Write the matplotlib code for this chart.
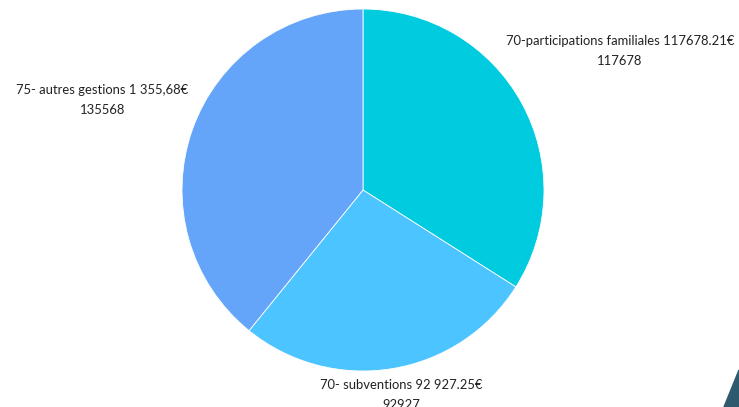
# Pie chart of receipts by category
import matplotlib.pyplot as plt
from matplotlib.patches import Polygon

labels = ['70-participations familiales 117678.21€',
          '70- subventions 92 927.25€',
          '75- autres gestions 1 355,68€']
values = [117678, 92927, 135568]
colors = ['#00CBDF', '#4BC4FF', '#64A5F9']

# label centres in axes data units (pie radius = 1)
label_pos = [(1.42, 0.77), (0.21, -1.13), (-1.44, 0.50)]

plt.rcParams['font.family'] = ['Lato', 'DejaVu Sans']

W, H = 739, 407
cx, cy, r = 363, 190, 181

fig = plt.figure(figsize=(W / 100, H / 100), dpi=100)
ax = fig.add_axes([0, 0, 1, 1])

ax.pie(values, colors=colors, startangle=90, counterclock=False,
       wedgeprops=dict(edgecolor='white', linewidth=0.6))

ax.set_xlim(-cx / r, (W - cx) / r)
ax.set_ylim((cy - H) / r, cy / r)
ax.set_aspect('equal')
ax.axis('off')

for lab, v, (x, y) in zip(labels, values, label_pos):
    ax.text(x, y, lab + '\n' + str(v), ha='center', va='center',
            fontsize=9.4, color='#222222', linespacing=1.8)

# decorative corner shape
fig.patches.append(Polygon([(724 / W, 0), (739 / W, 37 / H), (1, 0)],
                           closed=True, transform=fig.transFigure,
                           color='#2E5A6E'))

plt.savefig('out.png', dpi=100)
